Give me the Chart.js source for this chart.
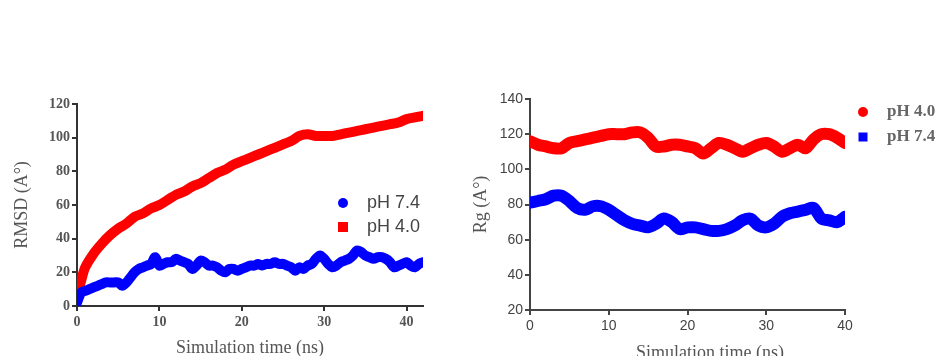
<!DOCTYPE html>
<html>
<head>
<meta charset="utf-8">
<script src="https://cdn.jsdelivr.net/npm/chart.js@4"></script>
<style>
  html, body { margin: 0; padding: 0; background: #fff; }
  #wrap { position: relative; width: 936px; height: 356px; overflow: hidden; }
  .box { position: absolute; top: 0; }
</style>
</head>
<body>
<div id="wrap">
  <div class="box" style="left:0;width:470px;height:362px"><canvas id="rmsd"></canvas></div>
  <div class="box" style="left:470px;width:466px;height:370px"><canvas id="rg"></canvas></div>
</div>
<script>
// RMSD panel (left)
const rmsdTime = [0, 0.5, 1, 2, 3, 4, 5, 6, 7, 8, 9, 10, 11, 12, 13, 14, 15, 16, 17, 18, 19, 20,
                  21, 22, 23, 24, 25, 26, 27, 28, 29, 30, 31, 32, 33, 34, 35, 36, 37, 38, 39, 40, 41, 42];
const rmsdPh40 = [6, 15, 23, 31, 37, 42, 46, 49, 53, 55, 58, 60, 63, 66, 68, 71, 73, 76, 79, 81, 84, 86,
                  88, 90, 92, 94, 96, 98, 101, 102, 101, 101, 101, 102, 103, 104, 105, 106, 107, 108, 109, 111, 112, 113];
const rmsdTimeFine = [0, 0.5, 1, 1.5, 2, 2.5, 3, 3.5, 4, 4.5, 5, 5.5, 6, 6.5, 7, 7.5, 8, 8.5, 9, 9.5,
                      10, 10.5, 11, 11.5, 12, 12.5, 13, 13.5, 14, 14.5, 15, 15.5, 16, 16.5, 17, 17.5, 18, 18.5, 19, 19.5,
                      20, 20.5, 21, 21.5, 22, 22.5, 23, 23.5, 24, 24.5, 25, 25.5, 26, 26.5, 27, 27.5, 28, 28.5, 29, 29.5,
                      30, 30.5, 31, 31.5, 32, 32.5, 33, 33.5, 34, 34.5, 35, 35.5, 36, 36.5, 37, 37.5, 38, 38.5, 39, 39.5,
                      40, 40.5, 41, 41.5, 42];
const rmsdPh74 = [2, 8, 9, 10, 11, 12, 13, 14, 14, 14, 14, 12, 14, 17, 20, 22, 23, 24, 25, 29,
                  24, 25, 26, 26, 28, 27, 26, 25, 22, 24, 27, 26, 24, 24, 23, 21, 20, 22, 22, 21,
                  22, 23, 24, 24, 25, 24, 25, 25, 26, 25, 25, 24, 23, 21, 23, 22, 24, 25, 28, 30,
                  28, 25, 23, 24, 26, 27, 28, 30, 33, 32, 30, 29, 28, 29, 29, 28, 26, 23, 24, 25,
                  26, 24, 23, 25, 26];
const rmsdYTicks = [0, 20, 40, 60, 80, 100, 120];
const rmsdXTicks = [0, 10, 20, 30, 40];

// Rg panel (right)
const rgTime = [0, 1, 2, 3, 4, 5, 6, 7, 8, 9, 10, 11, 12, 13, 14, 15, 16, 17, 18, 19, 20,
                21, 22, 23, 24, 25, 26, 27, 28, 29, 30, 31, 32, 33, 34, 35, 36, 37, 38, 39, 40];
const rgPh40 = [116, 114, 113, 112, 112, 115, 116, 117, 118, 119, 120, 120, 120, 121, 121, 118, 113, 113, 114, 114, 113,
                112, 109, 112, 115, 114, 112, 110, 112, 114, 115, 113, 110, 112, 114, 112, 117, 120, 120, 118, 115];
const rgPh74 = [81, 82, 83, 85, 85, 82, 78, 77, 79, 79, 77, 74, 71, 69, 68, 67, 69, 72, 70, 66, 67,
                67, 66, 65, 65, 66, 68, 71, 72, 68, 67, 69, 73, 75, 76, 77, 78, 72, 71, 70, 73];
const rgYTicks = [20, 40, 60, 80, 100, 120, 140];
const rgXTicks = [0, 10, 20, 30, 40];

const RED = 'rgb(255,0,0)';
const BLUE = 'rgb(0,0,255)';

function toPoints(xs, ys) {
  return xs.map((x, i) => ({ x: x, y: ys[i] }));
}

// legend + loose captions drawn on top of the chart
const freeText = {
  id: 'freeText',
  afterDraw(chart, args, opts) {
    const ctx = chart.ctx;
    ctx.save();
    (opts.legend || []).forEach(item => {
      const ds = chart.data.datasets[item.dataset];
      ctx.fillStyle = ds.borderColor;
      if (item.marker === 'circle') {
        ctx.beginPath();
        ctx.arc(item.mx, item.y, item.size / 2, 0, Math.PI * 2);
        ctx.fill();
      } else {
        ctx.fillRect(item.mx - item.size / 2, item.y - item.size / 2, item.size, item.size);
      }
      ctx.font = opts.legendFont;
      ctx.fillStyle = opts.legendColor;
      ctx.textAlign = 'left';
      ctx.textBaseline = 'middle';
      ctx.fillText(ds.label, item.tx, item.y);
    });
    (opts.captions || []).forEach(c => {
      ctx.font = c.font;
      ctx.fillStyle = c.color;
      ctx.textAlign = 'center';
      ctx.textBaseline = 'middle';
      ctx.fillText(c.text, c.x, c.y);
    });
    ctx.restore();
  }
};

function makeAxes(cfg) {
  return {
    x: {
      type: 'linear',
      min: 0,
      max: cfg.xMax,
      afterBuildTicks: s => { s.ticks = cfg.xTicks.map(v => ({ value: v })); },
      afterFit: s => { s.height = cfg.xHeight; },
      ticks: { font: cfg.tickFont, color: cfg.tickColor, padding: 3 },
      grid: { drawOnChartArea: false, drawTicks: true, tickLength: 5, color: cfg.axisColor, lineWidth: 2 },
      border: { color: cfg.axisColor, width: 2 },
      title: cfg.xTitle
    },
    y: {
      type: 'linear',
      min: cfg.yTicks[0],
      max: cfg.yTicks[cfg.yTicks.length - 1],
      afterBuildTicks: s => { s.ticks = cfg.yTicks.map(v => ({ value: v })); },
      afterFit: s => { s.width = cfg.yWidth; },
      ticks: { font: cfg.tickFont, color: cfg.tickColor, padding: 2 },
      grid: { drawOnChartArea: false, drawTicks: true, tickLength: 5, color: cfg.axisColor, lineWidth: 2 },
      border: { color: cfg.axisColor, width: 2 },
      title: cfg.yTitle
    }
  };
}

function lineSet(label, points, color, width) {
  return {
    label: label,
    data: points,
    borderColor: color,
    backgroundColor: color,
    borderWidth: width,
    borderCapStyle: 'round',
    borderJoinStyle: 'round',
    pointRadius: 0,
    tension: 0.3,
    fill: false
  };
}

const serifTitle = { family: 'Liberation Serif', size: 18 };

new Chart(document.getElementById('rmsd'), {
  type: 'line',
  data: {
    datasets: [
      lineSet('pH 7.4', toPoints(rmsdTimeFine, rmsdPh74), BLUE, 10),
      lineSet('pH 4.0', toPoints(rmsdTime, rmsdPh40), RED, 10)
    ]
  },
  options: {
    responsive: true,
    maintainAspectRatio: false,
    animation: false,
    layout: { padding: { left: 8, right: 47, top: 104, bottom: 0 } },
    plugins: {
      legend: { display: false },
      tooltip: { enabled: false },
      freeText: {
        legendFont: '18px "Liberation Sans"',
        legendColor: '#444',
        legend: [
          { dataset: 0, marker: 'circle', size: 10, mx: 343, tx: 367, y: 203 },
          { dataset: 1, marker: 'square', size: 10, mx: 343, tx: 367, y: 227 }
        ]
      }
    },
    scales: makeAxes({
      xMax: 42,
      xTicks: rmsdXTicks,
      yTicks: rmsdYTicks,
      xHeight: 56,
      yWidth: 69,
      tickFont: { family: 'Liberation Serif', size: 14, weight: 'bold' },
      tickColor: '#555',
      axisColor: '#333',
      xTitle: { display: true, text: 'Simulation time (ns)', font: serifTitle, color: '#555', padding: { top: 0, bottom: 3 } },
      yTitle: { display: true, text: 'RMSD (A°)', font: serifTitle, color: '#555', padding: { top: 3, bottom: 0 } }
    })
  },
  plugins: [freeText]
});

new Chart(document.getElementById('rg'), {
  type: 'line',
  data: {
    datasets: [
      lineSet('pH 4.0', toPoints(rgTime, rgPh40), RED, 12),
      lineSet('pH 7.4', toPoints(rgTime, rgPh74), BLUE, 12)
    ]
  },
  options: {
    responsive: true,
    maintainAspectRatio: false,
    animation: false,
    layout: { padding: { left: 0, right: 91, top: 99, bottom: 0 } },
    plugins: {
      legend: { display: false },
      tooltip: { enabled: false },
      freeText: {
        legendFont: 'bold 17px "Liberation Serif"',
        legendColor: '#666',
        legend: [
          { dataset: 0, marker: 'circle', size: 10, mx: 393, tx: 417, y: 112 },
          { dataset: 1, marker: 'square', size: 9, mx: 393, tx: 417, y: 137 }
        ],
        captions: [
          { text: 'Simulation time (ns)', x: 240, y: 353, font: '18px "Liberation Serif"', color: '#555' }
        ]
      }
    },
    scales: makeAxes({
      xMax: 40,
      xTicks: rgXTicks,
      yTicks: rgYTicks,
      xHeight: 60,
      yWidth: 60,
      tickFont: { family: 'Liberation Sans', size: 14 },
      tickColor: '#444',
      axisColor: '#444',
      xTitle: { display: false },
      yTitle: { display: true, text: 'Rg (A°)', font: serifTitle, color: '#555', padding: { top: 0, bottom: 0 } }
    })
  },
  plugins: [freeText]
});
</script>
</body>
</html>
